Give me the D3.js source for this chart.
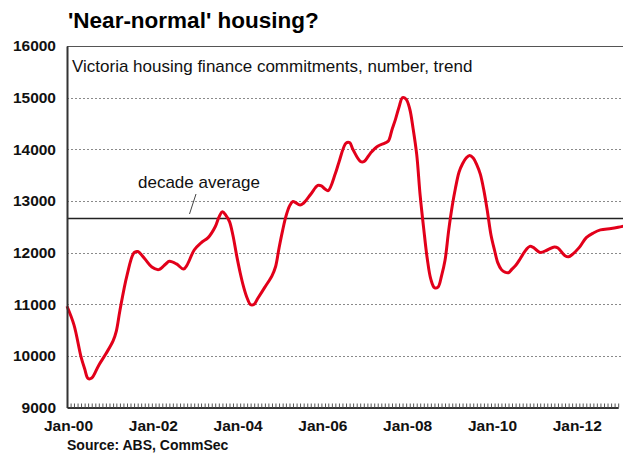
<!DOCTYPE html>
<html>
<head>
<meta charset="utf-8">
<script src="https://cdn.jsdelivr.net/npm/d3@7"></script>
<style>
  body { margin: 0; background: #fff; }
  svg { display: block; font-family: "Liberation Sans", Arial, sans-serif; }
</style>
</head>
<body>
<div id="chart"></div>
<script>
// Victoria housing finance commitments, number, trend
const months = ["2000-01","2000-03","2000-05","2000-06","2000-07","2000-08","2000-10","2000-12",
  "2001-02","2001-03","2001-04","2001-06","2001-08","2001-09","2001-11",
  "2002-01","2002-03","2002-05","2002-06","2002-08","2002-10","2002-11",
  "2003-01","2003-03","2003-05","2003-07","2003-08","2003-09","2003-10","2003-11","2003-12",
  "2004-01","2004-02","2004-03","2004-04","2004-05","2004-06","2004-07","2004-09","2004-11","2004-12",
  "2005-01","2005-02","2005-03","2005-04","2005-05","2005-07","2005-08","2005-10","2005-12",
  "2006-01","2006-02","2006-03","2006-05","2006-06","2006-08","2006-09","2006-10","2006-12",
  "2007-01","2007-03","2007-05","2007-07","2007-08","2007-09","2007-10","2007-11","2007-12",
  "2008-01","2008-02","2008-03","2008-04","2008-05","2008-06","2008-07","2008-08","2008-09",
  "2008-10","2008-11","2008-12",
  "2009-01","2009-02","2009-03","2009-04","2009-05","2009-06","2009-07","2009-08","2009-09",
  "2009-10","2009-11","2009-12",
  "2010-01","2010-02","2010-03","2010-04","2010-05","2010-06","2010-07","2010-08","2010-09",
  "2010-10","2010-11","2010-12",
  "2011-01","2011-03","2011-05","2011-07","2011-08","2011-10","2011-11","2011-12",
  "2012-02","2012-04","2012-06","2012-08","2012-11","2013-01","2013-03"];
const values = [10960,10600,9980,9750,9560,9570,9820,10040,
  10290,10480,10880,11560,12000,12020,11880,
  11720,11670,11780,11830,11780,11680,11760,
  12050,12190,12290,12500,12680,12790,12720,12600,12330,
  11950,11610,11340,11120,10990,11000,11110,11330,11550,11720,
  12090,12430,12700,12900,12990,12920,12960,13130,13300,
  13290,13230,13200,13530,13750,14120,14130,13990,13770,
  13760,13930,14060,14120,14160,14380,14580,14820,15000,
  14970,14780,14400,13900,13100,12450,11880,11480,11320,
  11330,11550,11850,
  12420,12900,13250,13560,13720,13830,13880,13830,13700,
  13520,13200,12800,
  12340,12040,11800,11670,11620,11610,11680,11750,11850,
  11960,12060,12120,
  12100,12000,12050,12110,12090,11940,11920,11960,
  12100,12290,12380,12440,12465,12490,12520];
const decadeAverage = 12660;
const yTicks = [9000,10000,11000,12000,13000,14000,15000,16000];
const xLabelYears = ["2000","2002","2004","2006","2008","2010","2012"];

const W = 623, H = 453;
const parseMonth = d3.timeParse("%Y-%m");
const parseYear = d3.timeParse("%Y");
const data = months.map((m, i) => ({ date: parseMonth(m), value: values[i] }));

const svg = d3.select("#chart").append("svg")
  .attr("width", W).attr("height", H);

const x = d3.scaleTime()
  .domain([parseYear("2000"), parseYear("2013")])
  .range([67, 67 + 13 * 42.4]);

const y = d3.scaleLinear()
  .domain([9000, 16000])
  .range([407.5, 46]);

// title
svg.append("text")
  .attr("x", 68).attr("y", 28)
  .style("font-size", "22.5px").style("font-weight", "bold")
  .text("'Near-normal' housing?");

// grid
svg.append("g")
  .selectAll("line")
  .data(yTicks.filter(d => d > 9000 && d < 16000))
  .join("line")
  .attr("x1", 67).attr("x2", W)
  .attr("y1", d => Math.round(y(d)) + 0.5).attr("y2", d => Math.round(y(d)) + 0.5)
  .attr("stroke", "#8a8a8a")
  .attr("stroke-width", 1)
  .attr("stroke-dasharray", "2,2");

// plot box top border
svg.append("line")
  .attr("x1", 67).attr("x2", W)
  .attr("y1", y(16000) + 0.5).attr("y2", y(16000) + 0.5)
  .attr("stroke", "#555").attr("stroke-width", 1);

// subtitle
svg.append("text")
  .attr("x", 72).attr("y", 72)
  .style("font-size", "17px")
  .attr("fill", "#111")
  .text("Victoria housing finance commitments, number, trend");

// decade average
svg.append("line")
  .attr("x1", 67).attr("x2", W)
  .attr("y1", y(decadeAverage)).attr("y2", y(decadeAverage))
  .attr("stroke", "#222").attr("stroke-width", 1.6);

svg.append("text")
  .attr("x", 138).attr("y", 188)
  .style("font-size", "17px")
  .attr("fill", "#111")
  .text("decade average");

svg.append("line")
  .attr("x1", 196).attr("y1", 194)
  .attr("x2", 189.5).attr("y2", 214)
  .attr("stroke", "#444").attr("stroke-width", 1);

// line
const line = d3.line()
  .x(d => x(d.date))
  .y(d => y(d.value))
  .curve(d3.curveCatmullRom.alpha(0.5));

svg.append("path")
  .datum(data)
  .attr("d", line)
  .attr("fill", "none")
  .attr("stroke", "#e2001a")
  .attr("stroke-width", 3)
  .attr("stroke-linejoin", "round");

// monthly minor ticks
const minorAxis = d3.axisBottom(x)
  .ticks(d3.timeMonth.every(1))
  .tickSizeInner(-4).tickSizeOuter(0)
  .tickFormat("");

svg.append("g")
  .attr("transform", `translate(0, ${y(9000)})`)
  .call(minorAxis)
  .call(g => g.select(".domain").attr("stroke", "#333").attr("stroke-width", 2))
  .call(g => g.selectAll(".tick line").attr("stroke", "#555"));

// year labels
const labelAxis = d3.axisBottom(x)
  .tickValues(xLabelYears.map(parseYear))
  .tickSize(0)
  .tickFormat(d3.timeFormat("Jan-%y"));

svg.append("g")
  .attr("transform", `translate(0, ${y(9000)})`)
  .call(labelAxis)
  .call(g => g.select(".domain").remove())
  .call(g => g.selectAll("text")
    .attr("dx", 1)
    .attr("y", 12)
    .attr("fill", "#111")
    .style("font-size", "15.5px")
    .style("font-weight", "bold")
    .style("font-family", "Liberation Sans, Arial, sans-serif"));

// y axis
const yAxis = d3.axisLeft(y)
  .tickValues(yTicks)
  .tickSize(0)
  .tickPadding(11)
  .tickFormat(d3.format("d"));

svg.append("g")
  .attr("transform", "translate(67, 0)")
  .call(yAxis)
  .call(g => g.select(".domain").attr("stroke", "#333").attr("stroke-width", 2))
  .call(g => g.selectAll("text")
    .attr("fill", "#111")
    .style("font-size", "15.5px")
    .style("font-weight", "bold")
    .style("font-family", "Liberation Sans, Arial, sans-serif"));

// source
svg.append("text")
  .attr("x", 67).attr("y", 449.5)
  .style("font-size", "14px").style("font-weight", "bold")
  .attr("fill", "#111")
  .text("Source: ABS, CommSec");
</script>
</body>
</html>
